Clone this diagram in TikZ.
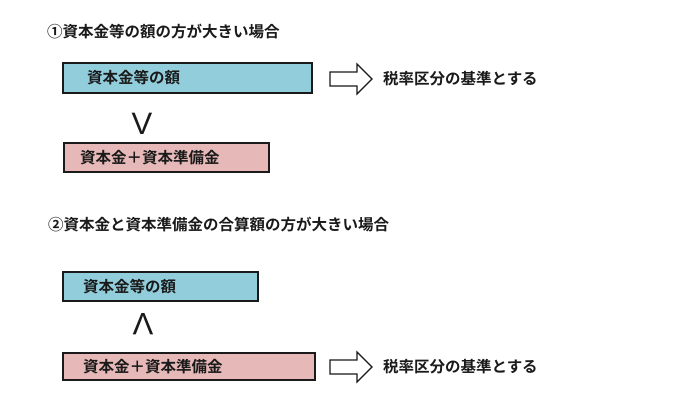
\documentclass[tikz,border=0pt]{standalone}
\usepackage{fontspec}
\setmainfont{Noto Sans CJK JP}[BoldFont={Noto Sans CJK JP Bold}]
\newfontfamily\vfont{Liberation Sans}
\definecolor{boxblue}{HTML}{92CDDC}
\definecolor{boxpink}{HTML}{E6B9B8}
\definecolor{ink}{HTML}{1A1A1A}
\begin{document}
\begin{tikzpicture}[x=1pt,y=-1pt,
  txt/.style={anchor=west,inner sep=0pt,font=\fontsize{15.5}{17}\selectfont\bfseries,text=ink},
  bluebox/.style={draw=ink,line width=1.3pt,fill=boxblue},
  pinkbox/.style={draw=ink,line width=1.3pt,fill=boxpink},
  blockarrow/.style={draw=ink,fill=white,line width=1.2pt,line join=miter},
  cmp/.style={inner sep=0pt,font=\vfont\fontsize{31}{31}\selectfont,text=ink}
]
\useasboundingbox[fill=white] (0,0) rectangle (690,406);

% case 1
\node[txt] (t1) at (47,32) {①資本金等の額の方が大きい場合};
\draw[bluebox] (63,63) rectangle (312,93);
\node[txt] (b1) at (87,78) {資本金等の額};
\node[cmp] (v1) at (142,124) {V};
\draw[pinkbox] (64,143) rectangle (269,172);
\node[txt] (p1) at (80,157.5) {資本金＋資本準備金};
\coordinate (a1) at (330,79);
\draw[blockarrow] (a1) ++(0,-7) -- ++(27,0) -- ++(0,-8) -- ++(15,15) -- ++(-15,15) -- ++(0,-8) -- ++(-27,0) -- cycle;
\node[txt] (r1) at (383,79) {税率区分の基準とする};

% case 2
\node[txt] (t2) at (48,225) {②資本金と資本準備金の合算額の方が大きい場合};
\draw[bluebox] (63,272) rectangle (258,301);
\node[txt] (b2) at (83,286.5) {資本金等の額};
\node[cmp,rotate=180] (v2) at (143,324) {V};
\draw[pinkbox] (63,353) rectangle (315,380);
\node[txt] (p2) at (83,366.5) {資本金＋資本準備金};
\coordinate (a2) at (330,367);
\draw[blockarrow] (a2) ++(0,-7) -- ++(27,0) -- ++(0,-8) -- ++(15,15) -- ++(-15,15) -- ++(0,-8) -- ++(-27,0) -- cycle;
\node[txt] (r2) at (383,367) {税率区分の基準とする};
\end{tikzpicture}
\end{document}
